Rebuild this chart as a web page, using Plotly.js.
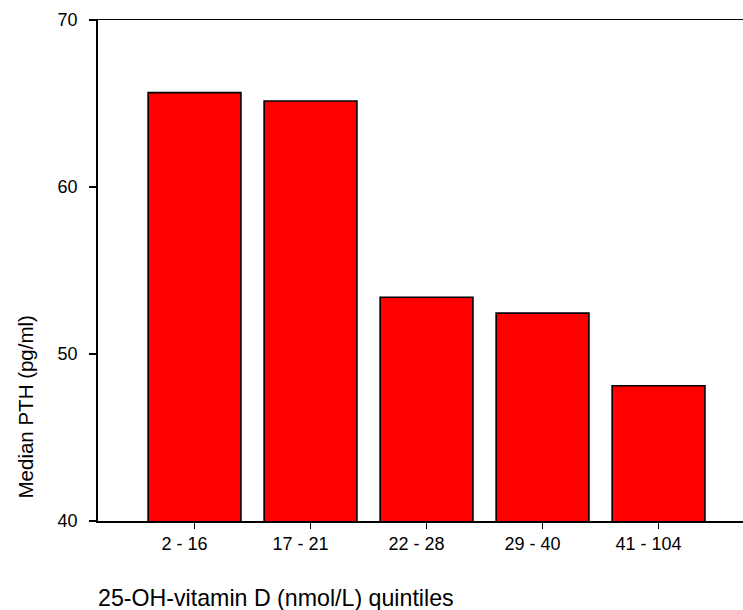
<!DOCTYPE html>
<html>
<head>
<meta charset="utf-8">
<script src="https://cdn.plot.ly/plotly-3.0.1.min.js"></script>
<style>html,body{margin:0;padding:0;background:#fff;}#chart{width:743px;height:610px;}</style>
</head>
<body>
<div id="chart"></div>
<script>
const categories = ["2 - 16", "17 - 21", "22 - 28", "29 - 40", "41 - 104"];
const medianPTH = [65.65, 65.15, 53.4, 52.45, 48.1];
const yTicks = [40, 50, 60, 70];
const xTitle = "25-OH-vitamin D (nmol/L) quintiles";
const yTitle = "Median PTH (pg/ml)";

const font = "Liberation Sans, Arial, sans-serif";

const trace = {
  type: "bar",
  x: [0, 1, 2, 3, 4],
  y: medianPTH,
  marker: {color: "#ff0000", line: {color: "#000000", width: 1.6}},
  hoverinfo: "skip"
};

const layout = {
  width: 743, height: 610,
  margin: {l: 98, r: 0, t: 20, b: 89},
  paper_bgcolor: "#ffffff", plot_bgcolor: "#ffffff",
  showlegend: false,
  bargap: 0.2,
  font: {family: font, color: "#000000"},
  xaxis: {
    range: [-0.832, 4.728],
    tickvals: [0, 1, 2, 3, 4],
    ticktext: categories,
    ticks: "outside", ticklen: 6, tickwidth: 1.3, tickcolor: "#000",
    ticklabelshift: -10,
    showline: true, linecolor: "#000", linewidth: 1.5, mirror: true,
    showgrid: false, zeroline: false,
    tickfont: {size: 18, family: font},
    fixedrange: true
  },
  yaxis: {
    range: [40, 70],
    tickvals: yTicks,
    ticks: "outside", ticklen: 7, tickwidth: 1.3, tickcolor: "#000",
    ticklabelstandoff: 8,
    showline: true, linecolor: "#000", linewidth: 1.8,
    showgrid: false, zeroline: false,
    tickfont: {size: 18, family: font},
    fixedrange: true
  },
  annotations: [
    {text: xTitle, xref: "paper", yref: "paper", x: 0, y: -0.154, xanchor: "left", yanchor: "middle",
     showarrow: false, font: {size: 23.2, family: font, color: "#000"}, xshift: -2, yshift: 0},
    {text: yTitle, xref: "paper", yref: "paper", x: 0, y: 0.5, xanchor: "center", yanchor: "middle",
     textangle: -90, showarrow: false, font: {size: 20.5, family: font, color: "#000"}, xshift: -73, yshift: -137}
  ]
};

Plotly.newPlot("chart", [trace], layout, {displayModeBar: false, staticPlot: true});
</script>
</body>
</html>
